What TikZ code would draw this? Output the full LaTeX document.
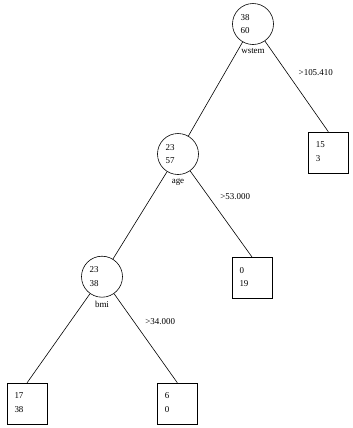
\documentclass[tikz,border=0pt]{standalone}
\usepackage{fontspec}
\setmainfont{Liberation Serif}

\begin{document}
\begin{tikzpicture}[x=1bp,y=-1bp,line width=0.6bp,
  split/.style={draw,circle,minimum size=41bp,inner sep=0pt},
  leaf/.style={draw,minimum width=40bp,minimum height=41bp,inner sep=0pt},
  cnt/.style={align=left,inner sep=0pt,font=\fontsize{9}{13.5}\selectfont},
  cut/.style={anchor=west,xshift=8bp,font=\fontsize{9}{11}\selectfont}]
  \useasboundingbox (0,0) rectangle (353,428);
  % split nodes: name/x/y/counts/variable
  \foreach \n/\x/\y/\a/\b/\v in {root/253/24/38/60/wstem,age/178/154/23/57/age,bmi/102/276.7/23/38/bmi}
  {
    \node[split] (\n) at (\x,\y) {};
    \node[cnt] at ([xshift=-8bp]\n) {\a\\\b};
    \node[below,font=\fontsize{9}{11}\selectfont] at (\n.south) {\v};
  }
  % leaves
  \foreach \n/\x/\y/\a/\b in {rootr/328.3/152.5/15/3,ager/252/277.8/0/19,bmil/27/403.7/17/38,bmir/177.3/403.5/6/0}
  {
    \node[leaf] (\n) at (\x,\y) {};
    \node[cnt,anchor=west] at ([xshift=7.5bp,yshift=1bp]\n.west) {\a\\\b};
  }
  \draw (root) -- (age);
  \draw (age) -- (bmi);
  \draw (bmi) -- (bmil.north);
  \foreach \p/\c/\t/\s in {root/rootr/>105.410/0.35,age/ager/>53.000/0.3,bmi/bmir/>34.000/0.31}
  {
    \draw (\p) -- (\c.north) node[cut,pos=\s] {\t};
  }
\end{tikzpicture}
\end{document}
